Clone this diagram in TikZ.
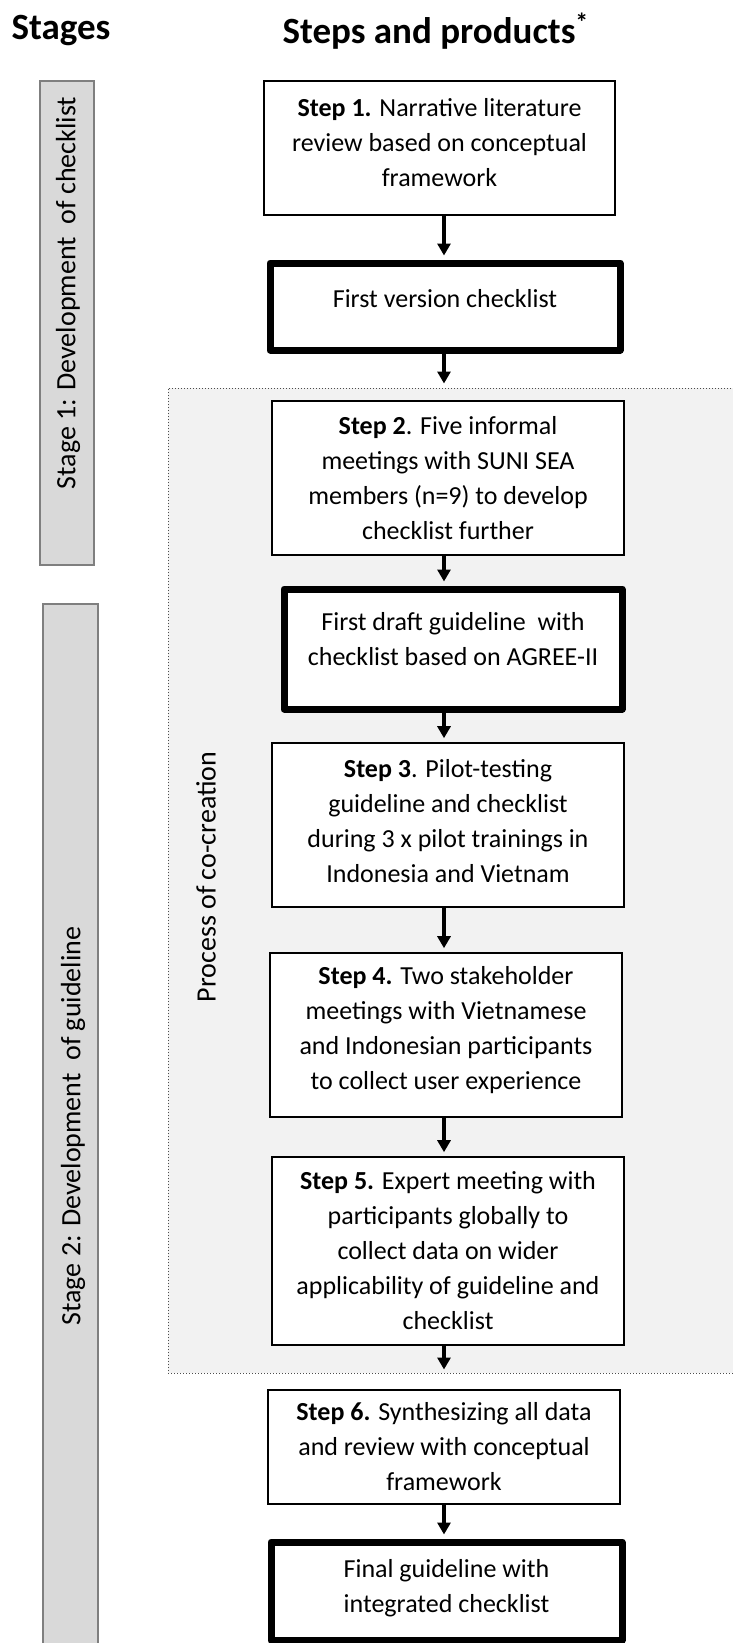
\documentclass[tikz,border=0pt]{standalone}
\usepackage{fontspec}
\setmainfont{Carlito}
\usepackage{tikz}
\usetikzlibrary{arrows.meta}

\definecolor{bargray}{HTML}{D9D9D9}
\definecolor{barline}{HTML}{7F7F7F}
\definecolor{cobg}{HTML}{F2F2F2}

% empty last line that moves the text of a box upwards
\newcommand{\liftup}[1]{\\[#1]\mbox{}}

\tikzset{
    stepbox/.style={draw, line width=0.8pt, fill=white, align=center, inner sep=0pt,
        font=\fontsize{13}{17.5}\selectfont},
    productbox/.style={stepbox, line width=3.5pt, line join=round},
    stagebar/.style={draw=barline, fill=bargray, line width=0.6pt, inner sep=0pt},
    stagetext/.style={rotate=90, font=\fontsize{14}{17}\selectfont},
    flow/.style={-{Triangle[width=6.5pt, length=6pt]}, line width=1.6pt, shorten >=2pt},
}

\begin{document}
\begin{tikzpicture}[x=0.5pt, y=-0.5pt]
        \useasboundingbox (0, 0) rectangle (733, 1643);
        \clip (0, 0) rectangle (733, 1643);

        % headings
        \node [font=\fontsize{18.5}{22}\selectfont\bfseries] (stageshead) at (61, 31) {Stages};
        \node [font=\fontsize{18.5}{22}\selectfont\bfseries] (stepshead) at (436, 31) {Steps and products\textsuperscript{*}};

        % stage bars
        \node [stagebar, minimum width=27pt, minimum height=242pt] (stage1) at (67, 323) {};
        \node [stagetext] (stage1text) at (68, 293) {Stage 1: Development\ \ of checklist};
        \node [stagebar, minimum width=27.5pt, minimum height=548pt] (stage2) at (70.5, 1152) {};
        \node [stagetext] (stage2text) at (73, 1126) {Stage 2: Development\ \ of guideline};

        % co-creation area
        \node [draw=black!70, fill=cobg, densely dotted, line width=0.5pt, inner sep=0pt,
            minimum width=316pt, minimum height=492.5pt] (cocreate) at (484, 880.5) {};
        \node [stagetext] (cocreatetext) at (206, 877) {Process of co-creation};

        \coordinate (spine) at (444, 0);

        % steps and products
        \node [stepbox, minimum width=175.5pt, minimum height=67pt] (step1) at (439.5, 148)
            {\textbf{Step 1.} Narrative literature\\review based on conceptual\\framework\liftup{-11.5pt}};
        \node [productbox, minimum width=175pt, minimum height=43.5pt] (first) at (445, 306.5)
            {First version checklist\liftup{-9.5pt}};
        \node [stepbox, minimum width=176pt, minimum height=77pt] (step2) at (448, 478)
            {\textbf{Step 2}. Five informal\\meetings with SUNI SEA\\members (n=9) to develop\\checklist further};
        \node [productbox, minimum width=169pt, minimum height=60pt] (draft) at (453, 649)
            {First draft guideline\ \ with\\checklist based on AGREE-II\liftup{-7.5pt}};
        \node [stepbox, minimum width=176pt, minimum height=82pt] (step3) at (448, 825)
            {\textbf{Step 3}. Pilot-testing\\guideline and checklist\\during 3 x pilot trainings in\\Indonesia and Vietnam\liftup{-13.5pt}};
        \node [stepbox, minimum width=176pt, minimum height=82pt] (step4) at (446, 1035)
            {\textbf{Step 4.} Two stakeholder\\meetings with Vietnamese\\and Indonesian participants\\to collect user experience\liftup{-10.5pt}};
        \node [stepbox, minimum width=176pt, minimum height=94pt] (step5) at (448, 1251)
            {\textbf{Step 5.} Expert meeting with\\participants globally to\\collect data on wider\\applicability of guideline and\\checklist};
        \node [stepbox, minimum width=176pt, minimum height=57pt] (step6) at (444, 1447)
            {\textbf{Step 6.} Synthesizing all data\\and review with conceptual\\framework};
        \node [productbox, minimum width=175.5pt, minimum height=49pt] (final) at (446.5, 1591)
            {Final guideline with\\integrated checklist\liftup{-12.5pt}};

        % arrows
        \draw [flow] (step1.south -| spine) -- (first.north -| spine);
        \draw [flow] (first.south -| spine) -- (cocreate.north -| spine);
        \draw [flow] (step2.south -| spine) -- (draft.north -| spine);
        \draw [flow] (draft.south -| spine) -- (step3.north -| spine);
        \draw [flow] (step3.south -| spine) -- (step4.north -| spine);
        \draw [flow] (step4.south -| spine) -- (step5.north -| spine);
        \draw [flow] (step5.south -| spine) -- (cocreate.south -| spine);
        \draw [flow] (step6.south -| spine) -- (final.north -| spine);
    \end{tikzpicture}
\end{document}
